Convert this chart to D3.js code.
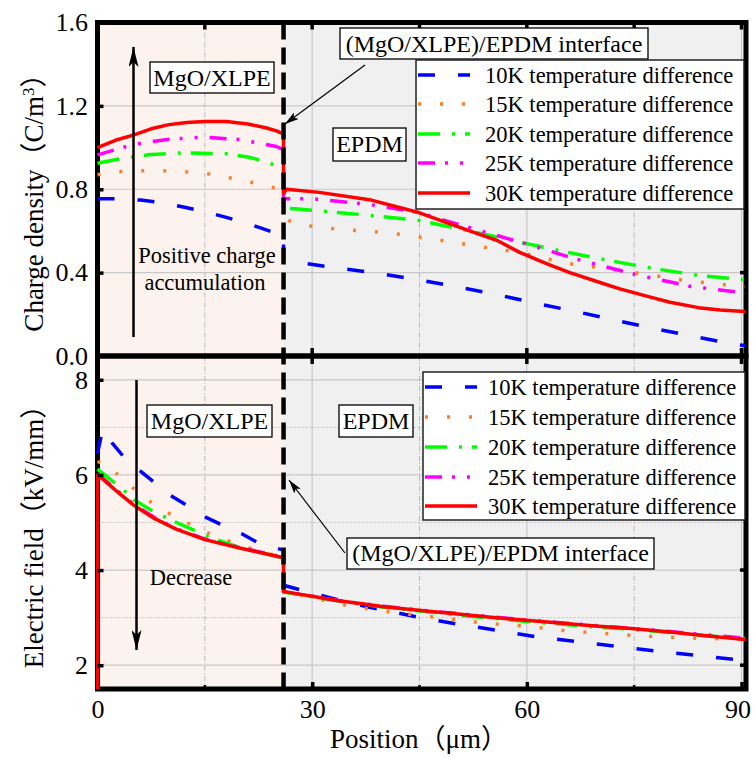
<!DOCTYPE html>
<html><head><meta charset="utf-8">
<script src="https://cdn.jsdelivr.net/npm/d3@7"></script>
<style>
body{margin:0;background:#fff}
text,tspan{font-family:"Liberation Serif","Times New Roman",serif;fill:#000}
tspan.cjk{font-family:"Noto Sans CJK SC","Noto Sans CJK JP",sans-serif}
</style>
</head><body>
<svg id="chart" width="753" height="758"></svg>
<script>
// ---------------- DATA ----------------
const seriesNames = ["10K temperature difference","15K temperature difference","20K temperature difference","25K temperature difference","30K temperature difference"];
const xTicks = [0, 30, 60, 90];
const xMinorTicks = [15, 45, 75];
const chargeTicks = [0.0, 0.4, 0.8, 1.2, 1.6];
const fieldTicks = [2, 4, 6, 8];
const fieldMinor = [3, 5, 7];
const interfaceX = 26;

// Charge density (C/m^3) vs position (µm)
const charge10K = [[0,0.755],[3,0.755],[6,0.748],[9,0.735],[12,0.715],[15,0.692],[18,0.665],[21,0.635],[24,0.60],[26,0.58],[26,0.46],[28.8,0.445],[34.4,0.418],[39.7,0.394],[45,0.365],[50.5,0.33],[56,0.293],[61.4,0.252],[66.8,0.214],[72.3,0.172],[77.6,0.133],[83,0.096],[88.5,0.059],[90.5,0.05]];
const charge15K = [[0,0.87],[3,0.884],[6,0.889],[9,0.889],[12,0.884],[15,0.877],[18,0.858],[21,0.837],[24.4,0.81],[26,0.79],[26,0.665],[27,0.645],[29,0.626],[32.4,0.613],[35,0.605],[41,0.59],[47,0.56],[53,0.527],[59,0.497],[62,0.474],[65,0.447],[71,0.42],[77,0.39],[83,0.358],[89.5,0.336],[90.5,0.334]];
const charge20K = [[0,0.925],[3,0.945],[7,0.965],[12,0.975],[18,0.97],[21,0.955],[23.3,0.935],[26,0.90],[26,0.71],[28,0.705],[33,0.69],[38,0.675],[45,0.65],[50.6,0.61],[57.6,0.557],[63.6,0.512],[70.6,0.464],[77.6,0.42],[84.6,0.384],[90.5,0.367]];
const charge25K = [[0,0.965],[5,1.015],[10,1.04],[15,1.05],[20,1.038],[25,1.005],[26,0.99],[26,0.755],[30,0.755],[38,0.727],[44.6,0.69],[52.3,0.613],[59.3,0.544],[67,0.464],[75.4,0.389],[83,0.333],[90.5,0.303]];
const charge30K = [[0,1.0],[2.5,1.035],[5,1.06],[7.5,1.09],[10,1.11],[12.5,1.12],[15,1.125],[18,1.125],[21,1.113],[23.5,1.095],[25,1.08],[26,1.065],[26,0.78],[26.4,0.80],[31,0.785],[38,0.75],[45,0.687],[52,0.60],[56,0.552],[59,0.497],[63,0.44],[66,0.40],[70,0.355],[73,0.322],[77,0.285],[80,0.258],[84,0.232],[87,0.221],[90.5,0.213]];

// Electric field (kV/mm) vs position (µm)
const field10K = [[0,6.45],[0.7,6.95],[2,6.68],[4,6.32],[6,6.08],[8.3,5.8],[10.2,5.57],[12.9,5.32],[15,5.12],[17.8,4.92],[20.1,4.77],[22.6,4.56],[24.8,4.47],[26,4.42],[26,3.68],[28.8,3.565],[33,3.40],[38,3.22],[44.5,3.02],[50,2.87],[55.6,2.74],[61.2,2.60],[66.7,2.50],[72.3,2.40],[77.8,2.30],[83.4,2.21],[89,2.12],[90.5,2.10]];
const field15K = [[0,6.28],[1.4,6.22],[3.6,5.89],[6,5.6],[8.4,5.32],[11.3,5.09],[14,4.88],[16.8,4.69],[19.8,4.53],[22.6,4.40],[24,4.34],[26,4.27],[26,3.54],[30,3.42],[35.3,3.24],[41.8,3.10],[47.8,3.0],[53.8,2.89],[59.8,2.82],[65.8,2.72],[71.8,2.655],[77.9,2.6],[84.1,2.565],[90.5,2.55]];
const field20K = [[0,6.12],[1,6.0],[2.5,5.82],[3.8,5.66],[5.2,5.47],[7.5,5.26],[10.3,5.05],[15.8,4.68],[20,4.47],[25,4.29],[26,4.26],[26,3.54],[30,3.44],[35,3.32],[40,3.22],[45,3.14],[50,3.06],[55,2.99],[60,2.92],[65,2.86],[70,2.80],[75,2.75],[80,2.69],[85,2.62],[90.5,2.56]];
const field25K = [[0,6.02],[1,5.90],[2.5,5.70],[5,5.39],[8,5.10],[11,4.87],[15,4.65],[20,4.47],[26,4.27],[26,3.55],[30,3.45],[35,3.33],[40,3.24],[45,3.16],[50,3.09],[55,3.02],[60,2.95],[65,2.89],[70,2.83],[75,2.77],[80,2.71],[85,2.64],[90.5,2.57]];
const field30K = [[0,1.5],[0,6.0],[1,5.88],[2.5,5.68],[5,5.37],[8,5.08],[11,4.86],[15,4.64],[20,4.46],[23,4.36],[26,4.26],[26,3.55],[28,3.50],[30,3.45],[33.4,3.36],[37,3.29],[40,3.23],[44.5,3.16],[50,3.08],[55,3.01],[59.4,2.95],[65,2.88],[70,2.82],[74.2,2.775],[80,2.70],[85,2.62],[90.5,2.54]];

const chargeSeries = [charge10K, charge15K, charge20K, charge25K, charge30K];
const fieldSeries = [field10K, field15K, field20K, field25K, field30K];

// ---------------- STYLE ----------------
const colors = ["#0000ff","#ff7f27","#00ff00","#ff00ff","#ff0000"];
const dashes = ["17,23","3,19","22,12,3,10","17,10,3,12,3,12",null];
const lineW = 3.5;
const SERIF = '"Liberation Serif","Times New Roman",serif';

const svg = d3.select("#chart");
const L = 97.5, R = 746, T1 = 22.5, B1 = 356, T2 = 356, B2 = 689;
const x = d3.scaleLinear().domain([0,90]).range([L, 741.5]);
const yC = d3.scaleLinear().domain([0,1.6]).range([B1, T1]);
const yF = d3.scaleLinear().domain([1.5,8.5]).range([B2, T2]);

const defs = svg.append("defs");
defs.append("clipPath").attr("id","clipTop").append("rect").attr("x",L-1.5).attr("y",T1).attr("width",R-L+1.5).attr("height",B1-T1);
defs.append("clipPath").attr("id","clipBot").append("rect").attr("x",L-1.5).attr("y",T2).attr("width",R-L+1.5).attr("height",B2-T2);
defs.append("marker").attr("id","headBig").attr("viewBox","0 0 20 10").attr("refX",20).attr("refY",5)
  .attr("markerWidth",20).attr("markerHeight",10).attr("markerUnits","userSpaceOnUse").attr("orient","auto")
  .append("path").attr("d","M0,0 L20,5 L0,10 L5,5 Z").attr("fill","#000");
defs.append("marker").attr("id","headSmall").attr("viewBox","0 0 14 8").attr("refX",14).attr("refY",4)
  .attr("markerWidth",14).attr("markerHeight",8).attr("markerUnits","userSpaceOnUse").attr("orient","auto")
  .append("path").attr("d","M0,0 L14,4 L0,8 L3,4 Z").attr("fill","#000");

function panelBack(y, top, bot, clipId, majorY, minorY){
  const g = svg.append("g");
  g.append("rect").attr("x",L).attr("y",top).attr("width",x(interfaceX)-L).attr("height",bot-top).attr("fill","#fdf3ee");
  g.append("rect").attr("x",x(interfaceX)).attr("y",top).attr("width",R-x(interfaceX)).attr("height",bot-top).attr("fill","#f0f0f0");
  const grid = g.append("g").attr("clip-path",`url(#${clipId})`);
  majorY.forEach(v=>grid.append("line").attr("x1",L).attr("x2",R).attr("y1",y(v)).attr("y2",y(v)).attr("stroke","#c8c8c8").attr("stroke-width",1.2));
  minorY.forEach(v=>grid.append("line").attr("x1",L).attr("x2",R).attr("y1",y(v)).attr("y2",y(v)).attr("stroke","#c0c0c0").attr("stroke-width",1).attr("stroke-dasharray","2,2"));
  xTicks.slice(1).forEach(v=>grid.append("line").attr("x1",x(v)).attr("x2",x(v)).attr("y1",top).attr("y2",bot).attr("stroke","#c8c8c8").attr("stroke-width",1.2));
  xMinorTicks.forEach(v=>grid.append("line").attr("x1",x(v)).attr("x2",x(v)).attr("y1",top).attr("y2",bot).attr("stroke","#b8b8b8").attr("stroke-width",1).attr("stroke-dasharray","5,2,1,2"));
}
function panelCurves(y, clipId, series){
  const line = d3.line().x(d=>x(d[0])).y(d=>y(d[1]));
  const cg = svg.append("g").attr("clip-path",`url(#${clipId})`);
  series.forEach((s,i)=>{
    cg.append("path").attr("d",line(s)).attr("fill","none").attr("stroke",colors[i])
      .attr("stroke-width",lineW).attr("stroke-dasharray",dashes[i]).attr("stroke-linejoin","round");
  });
}

panelBack(yC, T1, B1, "clipTop", [0.4,0.8,1.2], []);
panelBack(yF, T2, B2, "clipBot", fieldTicks, fieldMinor);

// frames
svg.append("rect").attr("x",L).attr("y",T1).attr("width",R-L).attr("height",B1-T1).attr("fill","none").attr("stroke","#000").attr("stroke-width",5);
svg.append("rect").attr("x",L).attr("y",T2).attr("width",R-L).attr("height",B2-T2).attr("fill","none").attr("stroke","#000").attr("stroke-width",5);

panelCurves(yC, "clipTop", chargeSeries);
panelCurves(yF, "clipBot", fieldSeries);

// interface dashed line
svg.append("line").attr("x1",x(interfaceX)).attr("x2",x(interfaceX)).attr("y1",T1).attr("y2",B2)
  .attr("stroke","#000").attr("stroke-width",4.5).attr("stroke-dasharray","17,8");

// axes with labels
const axL1 = d3.axisLeft(yC).tickValues(chargeTicks).tickFormat(d3.format(".1f")).tickSizeInner(-6).tickSizeOuter(0).tickPadding(9.5);
const axL2 = d3.axisLeft(yF).tickValues(fieldTicks).tickFormat(d3.format("d")).tickSizeInner(-6).tickSizeOuter(0).tickPadding(9.5);
const axB = d3.axisBottom(x).tickValues(xTicks).tickFormat(d3.format("d")).tickSizeInner(-7).tickSizeOuter(0).tickPadding(11);
function styleAxis(sel){
  sel.select(".domain").remove();
  sel.selectAll(".tick line").attr("stroke","#000").attr("stroke-width",3.5);
  sel.selectAll(".tick text").style("font-size","26px").style("font-family",SERIF);
}
svg.append("g").attr("transform",`translate(${L},0)`).call(axL1).call(styleAxis)
  .selectAll(".tick").filter(d=>d===0||d===1.6).select("line").remove();
svg.append("g").attr("transform",`translate(${L},0)`).call(axL2).call(styleAxis);
const gx = svg.append("g").attr("transform",`translate(0,${B2})`).call(axB).call(styleAxis);
gx.selectAll(".tick").filter(d=>d===0).select("line").remove();
gx.selectAll(".tick").filter(d=>d===90).select("text").attr("dx",-4);

// extra ticks (inward)
const tk = svg.append("g").attr("stroke","#000");
[15,30,45,60,75,90].forEach(v=>tk.append("line").attr("x1",x(v)).attr("x2",x(v)).attr("y1",T1).attr("y2",T1+7).attr("stroke-width",3.5));
[30,60,90].forEach(v=>tk.append("line").attr("x1",x(v)).attr("x2",x(v)).attr("y1",B1-8).attr("y2",B1+8).attr("stroke-width",3.5));
xMinorTicks.forEach(v=>tk.append("line").attr("x1",x(v)).attr("x2",x(v)).attr("y1",B2-4).attr("y2",B2).attr("stroke-width",2.5));
[0.4,0.8,1.2].forEach(v=>tk.append("line").attr("x1",R-6).attr("x2",R).attr("y1",yC(v)).attr("y2",yC(v)).attr("stroke-width",3.5));
fieldTicks.forEach(v=>tk.append("line").attr("x1",R-6).attr("x2",R).attr("y1",yF(v)).attr("y2",yF(v)).attr("stroke-width",3.5));

// axis titles (latin in serif, full-width brackets in CJK font)
function title(t, parts){
  parts.forEach(p=>{
    const ts = t.append("tspan").text(p.s);
    if (p.cjk) ts.attr("class","cjk");
    if (p.sup) ts.style("font-size","17px").attr("baseline-shift","super");
  });
}
title(svg.append("text").attr("transform","translate(43,196) rotate(-90)").attr("text-anchor","middle").style("font-size","27px"),
  [{s:"Charge density"},{s:"（",cjk:1},{s:"C/m"},{s:"3",sup:1},{s:"）",cjk:1}]);
title(svg.append("text").attr("transform","translate(43,530) rotate(-90)").attr("text-anchor","middle").style("font-size","27px"),
  [{s:"Electric field"},{s:"（",cjk:1},{s:"kV/mm"},{s:"）",cjk:1}]);
title(svg.append("text").attr("x",419).attr("y",748).attr("text-anchor","middle").style("font-size","27px"),
  [{s:"Position"},{s:"（",cjk:1},{s:"μm"},{s:"）",cjk:1}]);

// annotation arrows
svg.append("line").attr("x1",133.5).attr("y1",337).attr("x2",133.5).attr("y2",47).attr("stroke","#000").attr("stroke-width",2.5).attr("marker-end","url(#headBig)");
svg.append("line").attr("x1",136.5).attr("y1",380).attr("x2",136.5).attr("y2",650).attr("stroke","#000").attr("stroke-width",2.5).attr("marker-end","url(#headBig)");
svg.append("line").attr("x1",365).attr("y1",65).attr("x2",285).attr("y2",124).attr("stroke","#000").attr("stroke-width",1.2).attr("marker-end","url(#headSmall)");
svg.append("line").attr("x1",345).attr("y1",553).attr("x2",289).attr("y2",480).attr("stroke","#000").attr("stroke-width",1.2).attr("marker-end","url(#headSmall)");

// label boxes
function box(bx,by,bw,bh,label,baseline){
  svg.append("rect").attr("x",bx).attr("y",by).attr("width",bw).attr("height",bh).attr("fill","#fff").attr("stroke","#000").attr("stroke-width",1.3);
  svg.append("text").attr("x",bx+bw/2).attr("y",baseline).attr("text-anchor","middle").style("font-size","24px").text(label);
}
box(150,62,124,31,"MgO/XLPE",86);
box(340,28,308,31,"(MgO/XLPE)/EPDM interface",52);
box(333,128,73,33,"EPDM",152);
box(147,405,125,32,"MgO/XLPE",429);
box(339,405,74,32,"EPDM",429);
box(347,538,307,31,"(MgO/XLPE)/EPDM interface",561);

svg.append("text").attr("x",207).attr("y",263).attr("text-anchor","middle").style("font-size","22.5px").text("Positive charge");
svg.append("text").attr("x",205).attr("y",290).attr("text-anchor","middle").style("font-size","22.5px").text("accumulation");
svg.append("text").attr("x",191).attr("y",585).attr("text-anchor","middle").style("font-size","22.5px").text("Decrease");

// legends
function legend(bx,by,bw,bh,rows,sx0,sx1,tx){
  svg.append("rect").attr("x",bx).attr("y",by).attr("width",bw).attr("height",bh).attr("fill","#fff").attr("stroke","#222").attr("stroke-width",1.5);
  seriesNames.forEach((n,i)=>{
    svg.append("line").attr("x1",sx0).attr("x2",sx1).attr("y1",rows[i]).attr("y2",rows[i]).attr("stroke",colors[i])
      .attr("stroke-width",lineW).attr("stroke-dasharray",dashes[i]);
    svg.append("text").attr("x",tx).attr("y",rows[i]).attr("dy","0.35em").style("font-size","22.5px").text(n);
  });
}
legend(416,60,328,149,[75,104,134,163,193],418,470,485);
legend(423,372,322,148,[387,417,447,477,506],425,477,488);
</script>
</body></html>
